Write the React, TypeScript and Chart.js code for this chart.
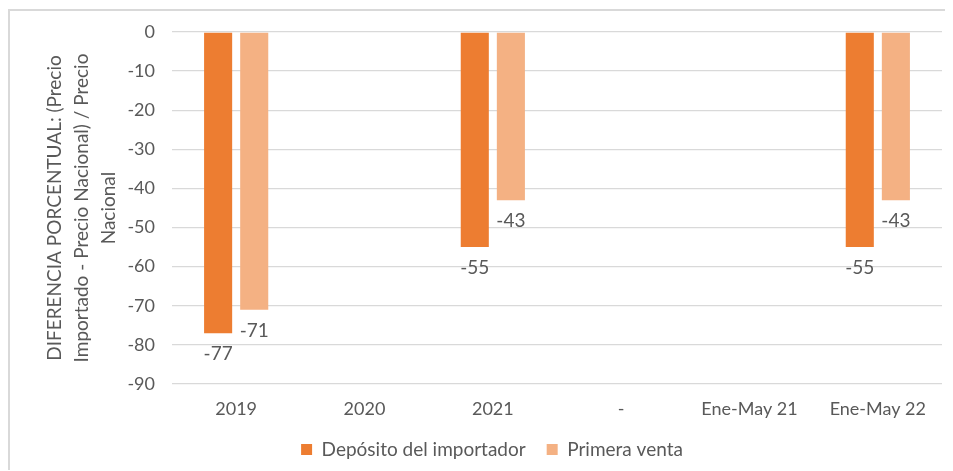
import React, { useEffect, useRef } from "react";
import { Chart, registerables } from "chart.js";

Chart.register(...registerables);

const categories = ["2019", "2020", "2021", "-", "Ene-May 21", "Ene-May 22"];
const depositoImportador = [-77, null, -55, null, null, -55];
const primeraVenta = [-71, null, -43, null, null, -43];
const seriesNames = ["Depósito del importador", "Primera venta"];
const yTitle = [
  "DIFERENCIA PORCENTUAL: (Precio",
  "Importado - Precio Nacional) / Precio",
  "Nacional",
];

const TEXT = "#595959";
const FONT = "Lato";

const valueLabels = {
  id: "valueLabels",
  afterDatasetsDraw(chart: any) {
    const ctx = chart.ctx;
    ctx.save();
    ctx.font = `19px ${FONT}`;
    ctx.fillStyle = TEXT;
    ctx.textAlign = "center";
    ctx.textBaseline = "middle";
    chart.data.datasets.forEach((ds: any, i: number) => {
      const meta = chart.getDatasetMeta(i);
      meta.data.forEach((el: any, j: number) => {
        const v = ds.data[j];
        if (v === null || v === undefined) return;
        ctx.fillText(String(v), el.x, el.y + 21);
      });
    });
    ctx.restore();
  },
};

export default function App() {
  const ref = useRef<HTMLCanvasElement | null>(null);

  useEffect(() => {
    if (!ref.current) return;
    const chart = new Chart(ref.current, {
      type: "bar",
      data: {
        labels: categories,
        datasets: [
          {
            label: seriesNames[0],
            data: depositoImportador,
            backgroundColor: "#ED7D31",
            categoryPercentage: 0.5625,
            barPercentage: 0.778,
          },
          {
            label: seriesNames[1],
            data: primeraVenta,
            backgroundColor: "#F4B183",
            categoryPercentage: 0.5625,
            barPercentage: 0.778,
          },
        ],
      },
      options: {
        animation: false,
        responsive: false,
        maintainAspectRatio: false,
        layout: { padding: { top: 21, right: 11, left: 32, bottom: 2 } },
        plugins: {
          legend: {
            position: "bottom",
            labels: {
              boxWidth: 11,
              boxHeight: 11,
              padding: 21,
              color: TEXT,
              font: { family: FONT, size: 19 },
            },
          },
          tooltip: { enabled: false },
          title: { display: false },
        },
        scales: {
          x: {
            grid: { display: false, drawTicks: false },
            border: { display: false },
            ticks: {
              color: TEXT,
              font: { family: FONT, size: 18, lineHeight: 1 },
              padding: 16,
              maxRotation: 0,
              autoSkip: false,
            },
            afterFit: (s: any) => {
              s.height = 35;
            },
          },
          y: {
            min: -90,
            max: 0,
            ticks: {
              stepSize: 10,
              color: TEXT,
              font: { family: FONT, size: 18 },
              padding: 17,
            },
            grid: { color: "#d9d9d9", lineWidth: 1.3, drawTicks: false },
            border: { display: false },
            title: {
              display: true,
              text: yTitle,
              color: TEXT,
              font: { family: FONT, size: 19, lineHeight: 1.4 },
              padding: { top: 0, bottom: 0 },
            },
            afterFit: (s: any) => {
              s.width = 130;
              s.paddingTop = 11;
              s.paddingBottom = 11;
            },
          },
        },
      },
      plugins: [valueLabels],
    });
    return () => chart.destroy();
  }, []);

  return (
    <div
      style={{
        position: "relative",
        top: 1,
        width: 943,
        height: 460,
        borderLeft: "2px solid #d9d9d9",
        borderTop: "2px solid #d9d9d9",
        overflow: "hidden",
      }}
    >
      <canvas ref={ref} width={943} height={460} style={{ display: "block" }} />
    </div>
  );
}
